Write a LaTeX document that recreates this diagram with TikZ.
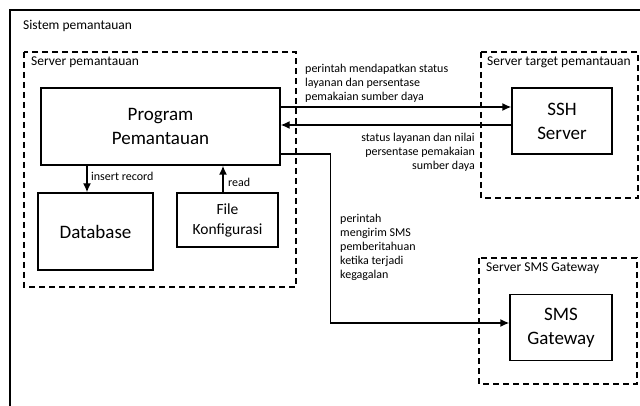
\documentclass[tikz,border=0pt]{standalone}
\usepackage{fontspec}
\setmainfont{Carlito}
\usetikzlibrary{arrows.meta,positioning,shapes}

\begin{document}
\begin{tikzpicture}[x=1pt,y=-1pt,
            proc/.style={draw,rectangle,line width=1.4pt,align=center,inner sep=0,font=\fontsize{19}{24}\selectfont},
            server/.style={draw,line width=1.4pt,dash pattern=on 6pt off 4pt},
            title/.style={anchor=west,inner sep=0,font=\fontsize{13.5}{16}\selectfont},
            lab/.style={inner sep=0,font=\fontsize{12}{14}\selectfont},
            conn/.style={draw,-{Latex[length=9pt,width=8pt]},line width=1.4pt}
          ]
          \useasboundingbox (0,0) rectangle (640,406);
          \clip (0,0) rectangle (640,406);

          %outer system
          \draw[line width=1.4pt] (10,10) rectangle (660,430);
          \node[title] (sistem) at (23,26) {Sistem pemantauan};

          %servers
          \draw[server] (24,52) rectangle (296,287);
          \node[title] (srvmon) at (31,62) {Server pemantauan};
          \draw[server] (481,52) rectangle (638,198);
          \node[title] (srvtarget) at (487,62) {Server target pemantauan};
          \draw[server] (479,258) rectangle (637,384);
          \node[title] (srvsms) at (486,268) {Server SMS Gateway};

          %processes
          \node[proc,minimum width=239,minimum height=77] (prog) at (160.5,126.5) {Program\\Pemantauan};
          \node[proc,minimum width=115,minimum height=77] (db) at (95.5,231.5) {Database};
          \node[proc,minimum width=101,minimum height=54,font=\fontsize{15.5}{20}\selectfont] (file) at (227.5,220) {File\\Konfigurasi};
          \node[proc,minimum width=100,minimum height=66] (ssh) at (562,121) {SSH\\Server};
          \node[proc,minimum width=102,minimum height=66] (sms) at (561,327.5) {SMS\\Gateway};

          %connections
          \path[conn] ([xshift=-8.5pt]db.north |- prog.south) -- ([xshift=-8.5pt]db.north);
          \path[conn] ([xshift=-4.5pt]file.north) -- ([xshift=-4.5pt]file.north |- prog.south);
          \path[conn] ([yshift=19.5pt]prog.east) -- ([yshift=19.5pt]prog.east -| ssh.west);
          \path[conn] ([yshift=-4pt]ssh.west) -- ([yshift=-4pt]ssh.west -| prog.east);
          \path[conn] ([yshift=-27.5pt]prog.east) -- ++(50,0) |- ([yshift=4.5pt]sms.west);

          %labels
          \node[lab,anchor=west] (lins) at (91,176) {insert record};
          \node[lab,anchor=west] (lread) at (228,182) {read};
          \node[lab,anchor=west,align=left] (lreq) at (305,83) {perintah mendapatkan status\\layanan dan persentase\\pemakaian sumber daya};
          \node[lab,anchor=east,align=right] (lres) at (475,152) {status layanan dan nilai\\persentase pemakaian\\sumber daya};
          \node[lab,anchor=west,align=left] (lsms) at (340,247) {perintah\\mengirim SMS\\pemberitahuan\\ketika terjadi\\kegagalan};
      \end{tikzpicture}
\end{document}
